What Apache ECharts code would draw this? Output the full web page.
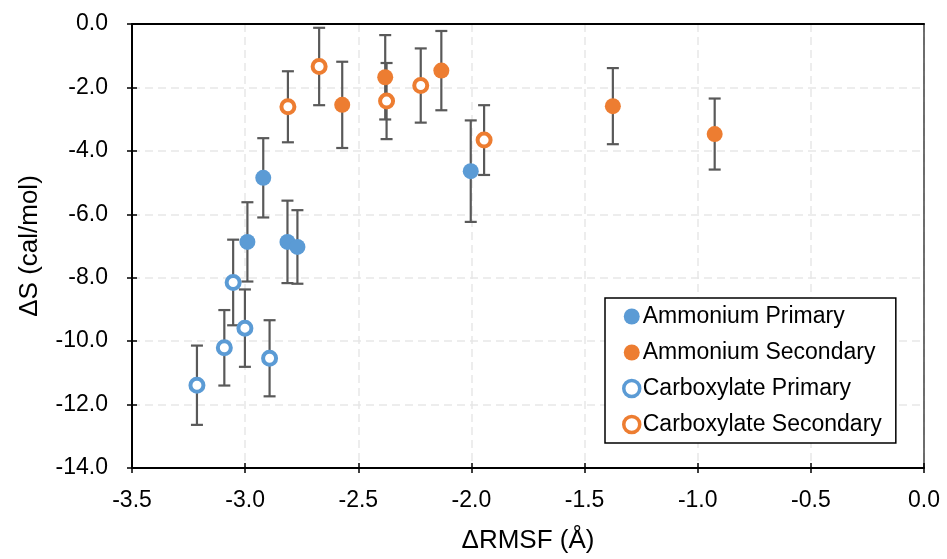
<!DOCTYPE html>
<html>
<head>
<meta charset="utf-8">
<script src="https://cdn.jsdelivr.net/npm/echarts@6/dist/echarts.min.js"></script>
<style>
  html, body { margin: 0; padding: 0; background: #fff; }
  #chart { width: 947px; height: 559px; }
</style>
</head>
<body>
<div id="chart"></div>
<script>
// values
const xTicks = [-3.5, -3.0, -2.5, -2.0, -1.5, -1.0, -0.5, 0.0];
const yTicks = [0, -2, -4, -6, -8, -10, -12, -14];

const ammPrimX = [-2.92, -2.99, -2.813, -2.769, -2.003];
const ammPrimY = [-4.85, -6.87, -6.87, -7.03, -4.64];
const ammPrimErr = [1.25, 1.25, 1.3, 1.16, 1.6];

const ammSecX = [-2.571, -2.381, -2.133, -1.375, -0.925];
const ammSecY = [-2.55, -1.68, -1.47, -2.59, -3.47];
const ammSecErr = [1.36, 1.33, 1.25, 1.2, 1.12];

const carbPrimX = [-3.213, -3.092, -3.053, -3.001, -2.892];
const carbPrimY = [-11.39, -10.21, -8.15, -9.59, -10.54];
const carbPrimErr = [1.25, 1.19, 1.35, 1.22, 1.2];

const carbSecX = [-2.811, -2.673, -2.375, -2.224, -1.944];
const carbSecY = [-2.61, -1.34, -2.43, -1.94, -3.66];
const carbSecErr = [1.12, 1.22, 1.2, 1.17, 1.1];

const BLUE = '#5B9BD5';
const ORANGE = '#ED7D31';
const font = '"Liberation Sans", Arial, sans-serif';

const chart = echarts.init(document.getElementById('chart'));

function pts(xs, ys) {
    return xs.map((x, i) => [x, ys[i]]);
}
function errPts(xs, ys, es) {
    return xs.map((x, i) => [x, ys[i], es[i]]);
}

function errorSeries(xs, ys, es) {
    return {
        type: 'custom',
        silent: true,
        z: 1,
        data: errPts(xs, ys, es),
        renderItem: function (params, api) {
            const x = api.value(0), y = api.value(1), e = api.value(2);
            const top = api.coord([x, y + e]);
            const bot = api.coord([x, y - e]);
            const cap = 6;
            const style = { stroke: '#595959', lineWidth: 2.2 };
            return {
                type: 'group',
                children: [
                    { type: 'line', shape: { x1: top[0], y1: top[1], x2: bot[0], y2: bot[1] }, style: style },
                    { type: 'line', shape: { x1: top[0] - cap, y1: top[1], x2: top[0] + cap, y2: top[1] }, style: style },
                    { type: 'line', shape: { x1: bot[0] - cap, y1: bot[1], x2: bot[0] + cap, y2: bot[1] }, style: style }
                ]
            };
        }
    };
}

function filled(name, xs, ys, color) {
    return {
        name: name,
        type: 'scatter',
        z: 3,
        symbol: 'circle',
        symbolSize: 16,
        itemStyle: { color: color, opacity: 1 },
        data: pts(xs, ys)
    };
}
function hollow(name, xs, ys, color) {
    return {
        name: name,
        type: 'scatter',
        z: 3,
        symbol: 'circle',
        symbolSize: 13,
        itemStyle: { color: '#fff', borderColor: color, borderWidth: 4, opacity: 1 },
        data: pts(xs, ys)
    };
}

const axisLabelStyle = { color: '#000', fontSize: 23, fontFamily: font };
const tickStyle = { color: '#000', width: 1.5 };
const gridLine = { show: true, lineStyle: { color: '#e8e8e8', width: 1.5, type: [8, 5] } };
const xRange = { min: xTicks[0], max: xTicks[xTicks.length - 1], interval: 0.5 };
const yRange = { min: yTicks[yTicks.length - 1], max: yTicks[0], interval: 2 };

const option = {
    animation: false,
    grid: { left: 132, right: 23, top: 24, bottom: 89 },
    legend: {
        orient: 'vertical',
        left: 605, top: 298,
        padding: [7, 14, 7, 17],
        itemWidth: 16, itemHeight: 16, itemGap: 13,
        borderColor: '#000', borderWidth: 1.5,
        backgroundColor: '#fff',
        icon: 'circle',
        textStyle: { color: '#000', fontSize: 23, fontFamily: font, padding: [0, 0, 0, -2] },
        data: [
            { name: 'Ammonium Primary' },
            { name: 'Ammonium Secondary' },
            { name: 'Carboxylate Primary', itemStyle: { borderWidth: 3.5 } },
            { name: 'Carboxylate Secondary', itemStyle: { borderWidth: 3.5 } }
        ]
    },
    xAxis: [Object.assign({
        type: 'value',
        name: 'ΔRMSF (Å)',
        nameLocation: 'middle', nameGap: 60,
        nameTextStyle: { color: '#000', fontSize: 26, fontFamily: font },
        axisLine: { show: true, onZero: false, lineStyle: { color: '#000', width: 2 } },
        axisTick: { show: true, length: 5, lineStyle: tickStyle },
        axisLabel: Object.assign({ margin: 21, formatter: v => v.toFixed(1) }, axisLabelStyle),
        splitLine: gridLine
    }, xRange), Object.assign({
        type: 'value',
        position: 'bottom',
        axisLine: { show: false, onZero: false },
        axisTick: { show: true, inside: true, length: 5, lineStyle: tickStyle },
        axisLabel: { show: false },
        splitLine: { show: false }
    }, xRange), Object.assign({
        type: 'value',
        position: 'top',
        axisLine: { show: true, onZero: false, lineStyle: { color: '#000', width: 2 } },
        axisTick: { show: false },
        axisLabel: { show: false },
        splitLine: { show: false }
    }, xRange)],
    yAxis: [Object.assign({
        type: 'value',
        name: 'ΔS (cal/mol)',
        nameLocation: 'middle', nameGap: 89,
        nameTextStyle: { color: '#000', fontSize: 26, fontFamily: font },
        axisLine: { show: true, onZero: false, lineStyle: { color: '#000', width: 2 } },
        axisTick: { show: true, length: 5, lineStyle: tickStyle },
        axisLabel: Object.assign({ margin: 24, formatter: v => v.toFixed(1) }, axisLabelStyle),
        splitLine: gridLine
    }, yRange), Object.assign({
        type: 'value',
        position: 'left',
        axisLine: { show: false, onZero: false },
        axisTick: { show: true, inside: true, length: 5, lineStyle: tickStyle },
        axisLabel: { show: false },
        splitLine: { show: false }
    }, yRange), Object.assign({
        type: 'value',
        position: 'right',
        axisLine: { show: true, onZero: false, lineStyle: { color: '#404040', width: 1.5 } },
        axisTick: { show: false },
        axisLabel: { show: false },
        splitLine: { show: false }
    }, yRange)],
    series: [
        errorSeries(ammPrimX, ammPrimY, ammPrimErr),
        errorSeries(ammSecX, ammSecY, ammSecErr),
        errorSeries(carbPrimX, carbPrimY, carbPrimErr),
        errorSeries(carbSecX, carbSecY, carbSecErr),
        filled('Ammonium Primary', ammPrimX, ammPrimY, BLUE),
        filled('Ammonium Secondary', ammSecX, ammSecY, ORANGE),
        hollow('Carboxylate Primary', carbPrimX, carbPrimY, BLUE),
        hollow('Carboxylate Secondary', carbSecX, carbSecY, ORANGE)
    ]
};

chart.setOption(option);
</script>
</body>
</html>
